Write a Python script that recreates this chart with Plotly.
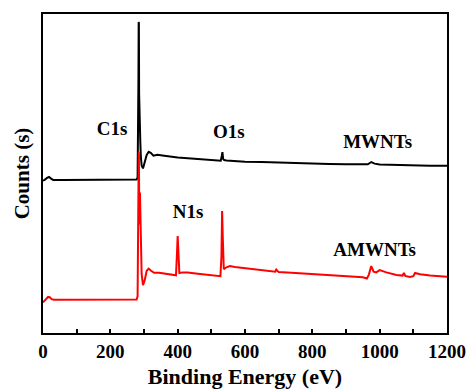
import plotly.graph_objects as go

# Binding energy (eV) and counts (arbitrary, offset)
mw_x = [0, 5, 12, 18, 24, 30, 60, 100, 150, 200, 250, 278, 281, 282.5, 283.5, 284.2, 284.8, 285.5, 286.3, 287.2, 288, 289, 290.5,
        293, 297, 302, 308, 314, 320, 328, 340, 360, 380, 400, 430, 460, 490, 520, 528, 531, 533, 535, 538, 545, 570,
        600, 650, 700, 750, 800, 850, 900, 950, 965, 975, 985, 1000, 1050, 1100, 1150, 1200]
mw_y = [47.8, 48.0, 48.6, 48.9, 48.4, 48.0, 48.0, 48.0, 48.0, 48.0, 48.0, 48.1, 48.8, 62.0, 80.0, 97.5, 97.0, 75.0, 66.0, 63.0, 70.0, 60.0, 55.5,
        52.5, 51.6, 53.5, 55.8, 56.8, 56.5, 55.6, 55.9, 55.6, 55.3, 55.0, 54.8, 54.6, 54.3, 54.0, 54.0, 55.5, 56.7, 54.6, 54.2, 54.1, 53.9,
        53.7, 53.6, 53.4, 53.2, 53.1, 53.0, 52.9, 52.8, 52.9, 53.6, 53.1, 52.8, 52.6, 52.5, 52.4, 52.4]

am_x = [0, 5, 10, 15, 20, 26, 32, 60, 100, 150, 200, 250, 278, 281, 282.5, 283.5, 284.2, 284.8, 285.5, 286.3, 287.2, 288, 289, 290.5,
        293, 297, 302, 308, 314, 320, 330, 345, 360, 380, 395, 398, 400, 402, 405, 415, 430, 460, 490, 520, 527, 530,
        532, 534, 537, 545, 555, 570, 600, 650, 690, 693, 700, 750, 800, 850, 900, 950, 962, 968, 975, 982, 990, 1000,
        1020, 1050, 1068, 1072, 1076, 1090, 1100, 1105, 1120, 1150, 1200]
am_y = [9.6, 10.2, 10.8, 11.3, 11.2, 10.6, 10.4, 10.4, 10.4, 10.4, 10.4, 10.4, 10.5, 11.5, 24.0, 45.0, 56.7, 56.0, 44.0, 36.0, 34.0, 44.0, 36.0, 26.0,
        18.5, 15.0, 16.5, 19.5, 20.2, 19.6, 18.9, 18.9, 18.6, 18.3, 18.1, 25.0, 30.4, 26.0, 18.8, 19.0, 19.0, 18.6, 18.3, 18.0, 17.8, 24.0,
        38.2, 30.0, 20.0, 20.6, 21.0, 20.7, 20.3, 19.6, 19.2, 19.9, 19.1, 18.8, 18.5, 18.1, 17.9, 17.5, 17.1, 18.3, 21.0, 19.2, 19.0, 19.7,
        19.0, 18.2, 18.0, 18.8, 17.9, 17.6, 17.8, 18.8, 18.4, 18.0, 17.6]

labels = ["C1s", "O1s", "MWNTs", "N1s", "AMWNTs"]
label_x = [205, 552, 994, 431, 985]
label_y = [63.5, 62.5, 59.5, 37.5, 25.5]

x_ticks = [0, 200, 400, 600, 800, 1000, 1200]

fig = go.Figure()
fig.add_trace(go.Scatter(x=mw_x, y=mw_y, mode="lines", line=dict(color="black", width=2), showlegend=False))
fig.add_trace(go.Scatter(x=am_x, y=am_y, mode="lines", line=dict(color="#ff0000", width=2), showlegend=False))
fig.add_trace(go.Scatter(x=label_x, y=label_y, mode="text", text=labels,
                         textfont=dict(family="Liberation Serif", size=19, color="black"),
                         texttemplate="<b>%{text}</b>", showlegend=False))

fig.update_layout(
    width=468, height=389,
    margin=dict(l=43, r=21, t=14, b=56),
    plot_bgcolor="white", paper_bgcolor="white",
    font=dict(family="Liberation Serif", color="black"),
)
fig.update_xaxes(
    range=[0, 1200], tickvals=x_ticks, ticktext=[f"<b>{v}</b>" for v in x_ticks],
    ticks="inside", ticklen=4, tickwidth=1.5, tickcolor="black",
    minor=dict(dtick=100, ticks="inside", ticklen=4, tickwidth=1.5, tickcolor="black"),
    showline=True, linewidth=2, linecolor="black", mirror=True,
    showgrid=False, zeroline=False, automargin=False,
    tickfont=dict(size=19, family="Liberation Serif"),
    title=dict(text="<b>Binding Energy (eV)</b>", font=dict(size=22, family="Liberation Serif"), standoff=9),
)
fig.update_yaxes(
    range=[0, 100], showticklabels=False, ticks="",
    showline=True, linewidth=2, linecolor="black", mirror=True,
    showgrid=False, zeroline=False, automargin=False,
    title=dict(text="<b>Counts (s)</b>", font=dict(size=21, family="Liberation Serif"), standoff=6),
)

fig.write_html("out.html")
